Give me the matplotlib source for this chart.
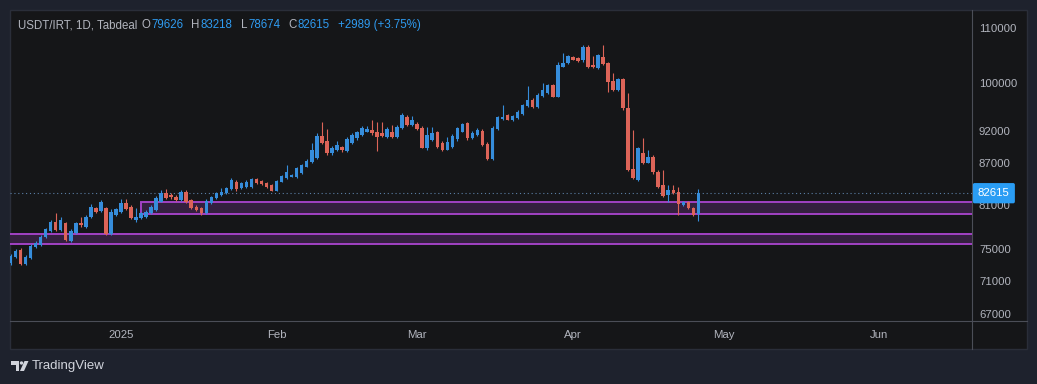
import matplotlib
matplotlib.use("Agg")
import matplotlib.pyplot as plt
import matplotlib.dates as mdates
import matplotlib.transforms as mtransforms
from matplotlib.patches import Rectangle, Polygon, Circle
from matplotlib.ticker import FuncFormatter, NullLocator
import numpy as np
import pandas as pd

plt.rcParams["font.family"] = ["Liberation Sans", "DejaVu Sans"]

###############################################################################
# Data

opens = [73200, 73930, 74870, 73070, 73800, 75300, 75480, 76620, 77370, 78630,
         77510, 78410, 76090, 77150, 78410, 77950, 79230, 80490, 80140, 80490,
         76980, 79550, 79930, 81180, 80700, 78860, 79100, 79310, 79790, 80240,
         81400, 82600, 82360, 82110, 81650, 82830, 81650, 80700, 80490, 79790,
         81250, 81890, 82360, 82600, 83170, 84270, 83320, 83560, 83560, 84630,
         84380, 84040, 83800, 82970, 84270, 84750, 85020, 84970, 85500, 86500,
         87250, 87810, 91220, 90510, 88500, 89040, 89500, 88930, 90200, 90830,
         91460, 91910, 92180, 91860, 91700, 90990, 91780, 91060, 92450, 94280,
         92900, 93220, 92500, 89270, 90590, 91780, 90200, 89110, 89500, 90700,
         91910, 93300, 90860, 91380, 92060, 90040, 87660, 92260, 93900, 94530,
         93790, 94150, 94770, 96090, 97180, 95970, 97780, 98330, 99650, 97660,
         102880, 103520, 104660, 104430, 103980, 106380, 103170, 102550, 104660, 103480,
         100430, 98790, 100640, 95710, 86110, 84520, 88530, 87100, 88030, 85750,
         83800, 82360, 83070, 82830, 80940, 81400, 80490, 79626]
highs = [74350, 75000, 75130, 74220, 75650, 76050, 76840, 77780, 78860, 79870,
         79280, 78590, 77640, 78590, 79310, 79550, 81080, 80660, 81650, 80660,
         80380, 80520, 81790, 81790, 80940, 80520, 79970, 80240, 80940, 82210,
         83070, 83220, 82640, 82360, 83070, 83070, 81790, 80940, 80660, 81790,
         82210, 82780, 83430, 83510, 84820, 84520, 84230, 84520, 84820, 84820,
         84520, 84160, 83940, 84520, 85330, 86750, 85480, 86450, 86900, 87660,
         90120, 91700, 93460, 92340, 89580, 90430, 89650, 90990, 91620, 92020,
         92740, 92820, 93790, 93460, 93460, 92660, 92980, 92900, 94940, 94530,
         94450, 93460, 92740, 92660, 92660, 92020, 90430, 91060, 91540, 92660,
         93300, 93540, 92020, 92500, 92260, 90280, 92740, 94450, 96260, 94780,
         94610, 95430, 96440, 99400, 97430, 98310, 99990, 99820, 99820, 103760,
         105330, 105060, 104880, 104610, 106810, 106810, 104710, 105240, 106810, 103700,
         101740, 100870, 100870, 98310, 92120, 89500, 90910, 88960, 88220, 85930,
         86000, 83800, 83800, 83510, 81570, 81570, 80660, 83218]
lows = [72950, 73840, 72950, 72950, 73710, 75130, 75390, 76440, 77240, 77370,
        77370, 76050, 75920, 76980, 77950, 77780, 79140, 79830, 79970, 76840,
        76840, 79420, 79830, 80240, 79000, 78590, 79000, 79140, 79690, 80100,
        81360, 81790, 81790, 81500, 81500, 81220, 80380, 80100, 79580, 79690,
        81080, 81790, 82210, 82500, 83070, 83000, 83220, 83430, 83430, 83940,
        83800, 83430, 82860, 82860, 84160, 84600, 84900, 84820, 85400, 86380,
        87120, 87660, 89960, 88340, 88340, 88880, 88800, 88800, 90040, 90670,
        91300, 91780, 91460, 88880, 91060, 90830, 90830, 90910, 92340, 92740,
        92740, 92100, 89270, 89110, 90430, 89340, 88880, 88960, 89340, 90510,
        91780, 90670, 90750, 91220, 89730, 87510, 87510, 92100, 93790, 93710,
        93620, 93950, 94610, 95930, 95680, 95810, 97610, 98190, 97530, 97530,
        102740, 103340, 103980, 103790, 103790, 102550, 102550, 102370, 103170, 98500,
        98620, 98620, 95510, 85850, 84600, 84380, 86830, 86980, 85480, 83360,
        82140, 81400, 82570, 79550, 80800, 80380, 79420, 78674]
closes = [74100, 74740, 73070, 74010, 75390, 75820, 76620, 77600, 78630, 77510,
          78860, 76180, 77370, 78410, 78180, 79310, 80700, 80010, 81400, 76980,
          80010, 80340, 81180, 80340, 79100, 79310, 79790, 80010, 80700, 81890,
          82680, 81890, 82030, 81650, 82830, 81400, 80490, 80240, 79790, 81540,
          82030, 82600, 82830, 83320, 84520, 83170, 84040, 84270, 84630, 84130,
          83890, 83560, 82970, 84310, 85180, 85750, 85330, 86230, 86750, 87430,
          89040, 91220, 90080, 88500, 89340, 89810, 88960, 90750, 91380, 91780,
          92500, 92340, 91620, 91140, 91220, 92340, 90990, 92660, 94660, 92900,
          93710, 92260, 89420, 91380, 91620, 89500, 89040, 90280, 91300, 92420,
          93060, 90830, 91620, 92220, 89880, 87660, 92500, 94200, 94330, 93840,
          94370, 95150, 96230, 97100, 95880, 97950, 98790, 99570, 97660, 103170,
          103600, 104780, 104150, 103940, 106380, 102770, 102770, 104970, 103350, 100220,
          98790, 100640, 95710, 86000, 84770, 89300, 87010, 87940, 85700, 83560,
          82280, 83070, 82680, 81080, 81400, 80490, 79550, 82615]
first_day = "2024-12-10"

# Support zones (price bottom, price top) and where they begin
zone_upper = (79680, 81360)
zone_upper_start = "2025-01-05"
zone_lower = (75710, 76980)
zone_lower_start = "2024-12-01"

last_price = 82615
header_name = "USDT/IRT, 1D, Tabdeal"
header_fields = [("O", "79626"), ("H", "83218"), ("L", "78674"), ("C", "82615")]
header_change = "+2989 (+3.75%)"

price_ticks = [67000, 71000, 75000, 81000, 87000, 92000, 100000, 110000]
month_ticks = ["2025-01-01", "2025-02-01", "2025-03-01", "2025-04-01", "2025-05-01", "2025-06-01"]
month_labels = ["2025", "Feb", "Mar", "Apr", "May", "Jun"]

###############################################################################
# Style

W, H = 1037, 384
OUTER = "#1e222d"
PANEL = "#151618"
GRID_LINE = "#4b4e57"
TXT = "#b2b5be"
UP = "#368ddb"
DOWN = "#dc6458"
BLUE_TXT = "#2f9bf0"
ZONE_FACE = "#34203f"
ZONE_EDGE = "#a142c4"

fig = plt.figure(figsize=(W / 100, H / 100), dpi=100, facecolor=OUTER)

# Background layer in pixel coordinates (panel, separators, header, logo)
bg = fig.add_axes([0, 0, 1, 1], zorder=0)
bg.set_xlim(0, W)
bg.set_ylim(H, 0)
bg.axis("off")
bg.add_patch(Rectangle((10, 10), 1017, 339, facecolor=PANEL, edgecolor="#2a2e39", lw=1))
bg.plot([972, 972], [10, 349], color=GRID_LINE, lw=0.8)
bg.plot([10, 1027], [321, 321], color=GRID_LINE, lw=0.8)

# Main price axes
ax = fig.add_axes([10 / W, (H - 321) / H, 962 / W, 310 / H], zorder=1)
ax.set_facecolor("none")
ax.set_yscale("log")

o = np.array(opens, dtype=float)
h = np.array(highs, dtype=float)
l = np.array(lows, dtype=float)
c = np.array(closes, dtype=float)
dates = pd.date_range(first_day, periods=len(o), freq="D")
x = mdates.date2num(dates)
cols = np.where(c >= o, UP, DOWN)

body_bottom = np.minimum(o, c)
body_height = np.maximum(np.abs(c - o), body_bottom * 0.0015)

ax.vlines(x, l, h, colors=cols, lw=0.8, zorder=3)
ax.bar(x, body_height, bottom=body_bottom, width=0.7, color=cols, lw=0, zorder=4)

# Zones
x_up = mdates.date2num(pd.Timestamp(zone_upper_start))
x_lo = mdates.date2num(pd.Timestamp(zone_lower_start))
for x0, (z0, z1) in [(x_up, zone_upper), (x_lo, zone_lower)]:
    ax.add_patch(Rectangle((x0, z0), 400, z1 - z0, facecolor=ZONE_FACE,
                           edgecolor=ZONE_EDGE, lw=1.4, zorder=1))

ax.axhline(last_price, color="#5b7fa6", ls=(0, (1, 2.5)), lw=0.8, zorder=2)

# Limits
jan1 = mdates.date2num(pd.Timestamp("2025-01-01"))
ax.set_xlim(jan1 - 22.1, jan1 + 169.5)
ax.set_ylim(66200, 113290)

# Axes ticks
ax.yaxis.tick_right()
ax.set_yticks(price_ticks)
ax.yaxis.set_major_formatter(FuncFormatter(lambda v, p: f"{v:.0f}"))
ax.yaxis.set_minor_locator(NullLocator())
ax.tick_params(axis="y", length=0, pad=5, labelsize=8.2, labelcolor=TXT)
ax.set_xticks(mdates.date2num(pd.to_datetime(month_ticks)))
ax.set_xticklabels(month_labels)
ax.tick_params(axis="x", length=0, pad=6.5, labelsize=8.2, labelcolor=TXT)
for s in ax.spines.values():
    s.set_visible(False)

# Last price label
trans = mtransforms.blended_transform_factory(ax.transAxes, ax.transData)
ax.text(1.0 + 6 / 962, last_price, f"{last_price}", transform=trans, ha="left", va="center",
        fontsize=8.2, color="white", zorder=10, clip_on=False,
        bbox=dict(boxstyle="round,pad=0.45,rounding_size=0.15", fc="#2a9df4", ec="none"))

# Header legend
renderer = fig.canvas.get_renderer()
cur = 18
def put(txt, color, gap):
    global cur
    t = bg.text(cur, 25, txt, color=color, fontsize=8.3, ha="left", va="center")
    bb = t.get_window_extent(renderer)
    cur += bb.width + gap
put(header_name, TXT, 4)
for k, v in header_fields:
    put(k, TXT, 1)
    put(v, BLUE_TXT, 8)
put(header_change, BLUE_TXT, 0)

# TradingView logo
LOGO = "#d1d4dc"
bg.add_patch(Polygon([(11, 361), (19, 361), (19, 371), (15.5, 371), (15.5, 364.5), (11, 364.5)],
                     closed=True, fc=LOGO, ec="none"))
bg.add_patch(Circle((21.5, 363), 1.7, fc=LOGO, ec="none"))
bg.add_patch(Polygon([(24.5, 361), (28.5, 361), (24, 371), (20, 371)], closed=True, fc=LOGO, ec="none"))
bg.text(32, 366, "TradingView", color=LOGO, fontsize=9.5, ha="left", va="center")

fig.savefig("out.png", dpi=100, facecolor=OUTER)
